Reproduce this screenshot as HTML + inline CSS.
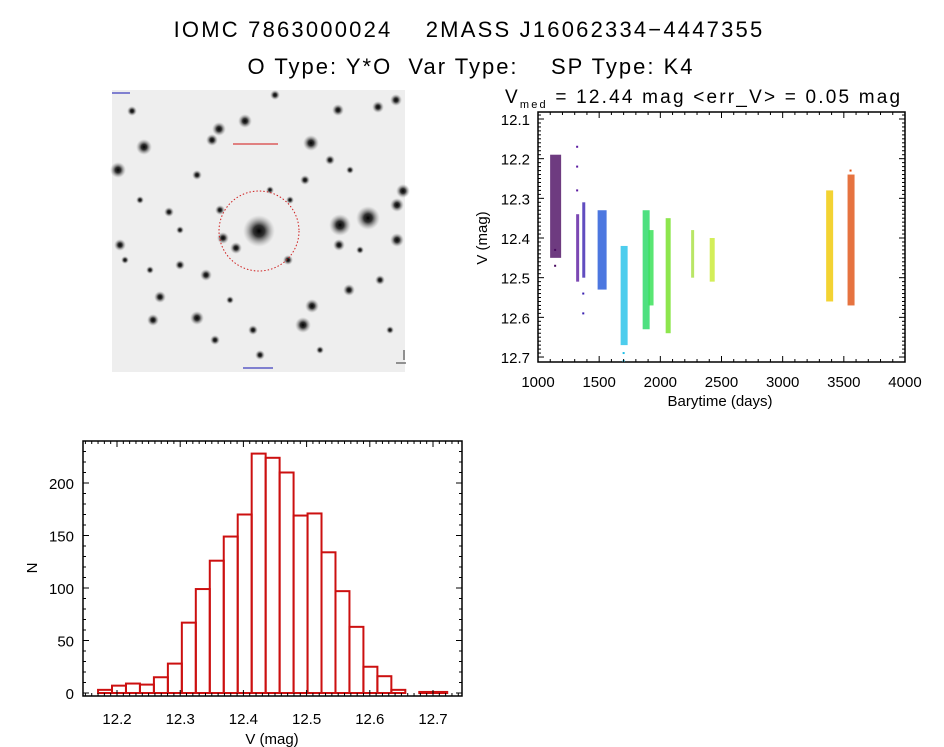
<!DOCTYPE html>
<html><head><meta charset="utf-8"><style>
body{margin:0;background:#fff;width:944px;height:747px;overflow:hidden;font-family:"Liberation Sans",sans-serif}
svg{position:absolute;left:0;top:0}
</style></head><body>
<svg width="944" height="747" xmlns="http://www.w3.org/2000/svg" font-family="Liberation Sans, sans-serif">
<text x="469" y="37" font-size="22" letter-spacing="2.2" text-anchor="middle" style="white-space:pre">IOMC 7863000024    2MASS J16062334−4447355</text>
<text x="471" y="74" font-size="22" letter-spacing="2" text-anchor="middle" style="white-space:pre">O Type: Y*O  Var Type:    SP Type: K4</text>
<defs><radialGradient id="st"><stop offset="0" stop-color="#000"/><stop offset="0.35" stop-color="#111" stop-opacity="0.85"/><stop offset="1" stop-color="#999" stop-opacity="0"/></radialGradient></defs>
<g id="img">
<rect x="112" y="90" width="293" height="282" fill="#eeeeee"/>
</g>
<g id="sc"></g>
<g id="hist"></g>
</svg>
<script>
const NS="http://www.w3.org/2000/svg";
function el(p,t,a){const e=document.createElementNS(NS,t);for(const k in a)e.setAttribute(k,a[k]);p.appendChild(e);return e;}
// ---- sky image stars
const starX=[259,368,340,311,144,118,403,397,397,245,219,212,303,312,197,223,236,206,349,338,396,378,160,120,153,197,220,132,339,169,288,253,305,380,215,180,260,330,275,140,180,290,360,150,230,320,390,125,270,350];
const starY=[231,218,225,143,147,170,191,205,240,121,129,140,325,306,318,238,248,275,290,110,100,107,297,245,320,175,210,111,245,212,260,330,180,280,340,265,355,160,95,200,230,200,250,270,300,350,330,260,190,170];
const starR=[16,12,11,8,8,8,7,7,7,7,7,6,8,7,7,6,6,6,6,6,6,6,6,6,6,5,5,5,6,5,5,5,5,5,5,5,5,5,5,4,4,4,4,4,4,4,4,4,4,4];
const img=document.getElementById('img');
for(let i=0;i<starX.length;i++){const c=el(img,'circle',{cx:starX[i],cy:starY[i],r:starR[i],fill:'url(#st)'});

}
const circ=el(img,'circle',{cx:259,cy:231,r:40,fill:'none',stroke:'#d02020','stroke-width':1,'stroke-dasharray':'1.5 2'});


const lab=el(img,'rect',{x:233,y:143,width:45,height:2,fill:'#e08080'});


el(img,'rect',{x:112,y:92,width:18,height:2,fill:'#8080d0'});
el(img,'rect',{x:243,y:367,width:30,height:2,fill:'#8080d0'});
el(img,'path',{d:'M404 350 v10 M396 363 h10',stroke:'#333',fill:'none','stroke-width':1});

// ---- light curve
const clusterT=[1140,1320,1370,1520,1700,1880,1920,2060,2260,2420,3380,3555];
const clusterLo=[12.19,12.34,12.31,12.33,12.42,12.33,12.38,12.35,12.38,12.40,12.28,12.24];
const clusterHi=[12.45,12.51,12.50,12.53,12.67,12.63,12.57,12.64,12.50,12.51,12.56,12.57];
const clusterOut=[[12.47,12.43],[12.17,12.22,12.28],[12.54,12.59],[],[12.71,12.69],[],[],[],[],[],[],[12.23]];
const clusterColor=['#4a0a60','#5a1aa0','#3a20b0','#1f55d8','#20c0e8','#22d860','#30e050','#70e020','#a8e040','#c8ea30','#f0c800','#e05010'];
const clusterW=[5,1,1,4,3,3,2,2,1,2,3,3];
const xTicks=[1000,1500,2000,2500,3000,3500,4000];
const yTicks=[12.1,12.2,12.3,12.4,12.5,12.6,12.7];
const sx=t=>538+(t-1000)*0.12233;
const sy=v=>119+(v-12.1)*396.7;
const sc=document.getElementById('sc');
el(sc,'rect',{x:538,y:112,width:367,height:250,fill:'none',stroke:'#000','stroke-width':1.5});
for(let i=0;i<clusterT.length;i++){
 const x=sx(clusterT[i]);const w=clusterW[i];
 const r=el(sc,'rect',{x:x-w,y:sy(clusterLo[i]),width:w*2+1,height:sy(clusterHi[i])-sy(clusterLo[i]),fill:clusterColor[i],opacity:0.8});
 
 
 clusterOut[i].forEach(v=>{const p=el(sc,'rect',{x:x-1,y:sy(v)-1,width:2,height:2,fill:clusterColor[i]});
 
 });
}
for(let t=1000;t<=4000;t+=100){const x=sx(t);const L=(t%500==0)?6:3;
 el(sc,'line',{x1:x,y1:362,x2:x,y2:362-L,stroke:'#000'});el(sc,'line',{x1:x,y1:112,x2:x,y2:112+L,stroke:'#000'});}
for(let k=0;k<=62;k++){const v=12.08+k*0.01;const y=sy(v);if(y<112||y>362)continue;const maj=Math.abs(v*10-Math.round(v*10))<1e-6;const L=maj?6:3;
 el(sc,'line',{x1:538,y1:y,x2:538+L,y2:y,stroke:'#000'});el(sc,'line',{x1:905,y1:y,x2:905-L,y2:y,stroke:'#000'});}
xTicks.forEach(t=>{const e=el(sc,'text',{x:sx(t),y:387,'font-size':15,'text-anchor':'middle'});e.textContent=t;
 
 });
yTicks.forEach(v=>{const e=el(sc,'text',{x:530,y:sy(v)+6,'font-size':15,'text-anchor':'end'});e.textContent=v.toFixed(1);
 
 });
let e=el(sc,'text',{x:720,y:406,'font-size':15,'text-anchor':'middle'});e.textContent='Barytime (days)';


e=el(sc,'text',{x:0,y:0,'font-size':15,'text-anchor':'middle',transform:'translate(487,238) rotate(-90)'});e.textContent='V (mag)';


e=el(sc,'text',{x:505,y:103,'font-size':19,'letter-spacing':2.2,style:'white-space:pre'});e.innerHTML='V<tspan font-size="11" dy="5">med</tspan><tspan dy="-5"> = 12.44 mag &lt;err_V&gt; = 0.05 mag</tspan>';



// ---- histogram
const binStart=12.17, binWidth=0.0221;
const counts=[3,7,9,8,15,28,67,99,126,149,170,228,224,210,169,171,134,97,63,25,16,3,0,1,1];
const hTicksX=[12.2,12.3,12.4,12.5,12.6,12.7];
const hTicksY=[0,50,100,150,200];
const hx=v=>117+(v-12.2)*632;
const hy=n=>693-n*1.05;
const h=document.getElementById('hist');
el(h,'rect',{x:83,y:441,width:379,height:255,fill:'none',stroke:'#000','stroke-width':1.5});
counts.forEach((c,i)=>{if(c<=0)return;const x0=hx(binStart+i*binWidth),x1=hx(binStart+(i+1)*binWidth);
 const b=el(h,'rect',{x:x0,y:hy(c),width:x1-x0,height:693-hy(c),fill:'none',stroke:'#cc1010','stroke-width':2});
 
 });
for(let k=0;k<=60;k++){const v=12.15+k*0.01;const x=hx(v);if(x<83||x>462)continue;const maj=Math.abs(v*10-Math.round(v*10))<1e-6;const L=maj?6:3;
 el(h,'line',{x1:x,y1:696,x2:x,y2:696-L,stroke:'#000'});el(h,'line',{x1:x,y1:441,x2:x,y2:441+L,stroke:'#000'});}
for(let n=0;n<=240;n+=10){const y=hy(n);if(y<441)continue;const L=(n%50==0)?6:3;
 el(h,'line',{x1:83,y1:y,x2:83+L,y2:y,stroke:'#000'});el(h,'line',{x1:462,y1:y,x2:462-L,y2:y,stroke:'#000'});}
hTicksX.forEach(v=>{const t=el(h,'text',{x:hx(v),y:724,'font-size':15,'text-anchor':'middle'});t.textContent=v.toFixed(1);
 
 });
hTicksY.forEach(n=>{const t=el(h,'text',{x:74,y:hy(n)+6,'font-size':15,'text-anchor':'end'});t.textContent=n;
 
 });
e=el(h,'text',{x:272,y:744,'font-size':15,'text-anchor':'middle'});e.textContent='V (mag)';


e=el(h,'text',{x:0,y:0,'font-size':15,'text-anchor':'middle',transform:'translate(37,568) rotate(-90)'});e.textContent='N';


</script>
</body></html>
